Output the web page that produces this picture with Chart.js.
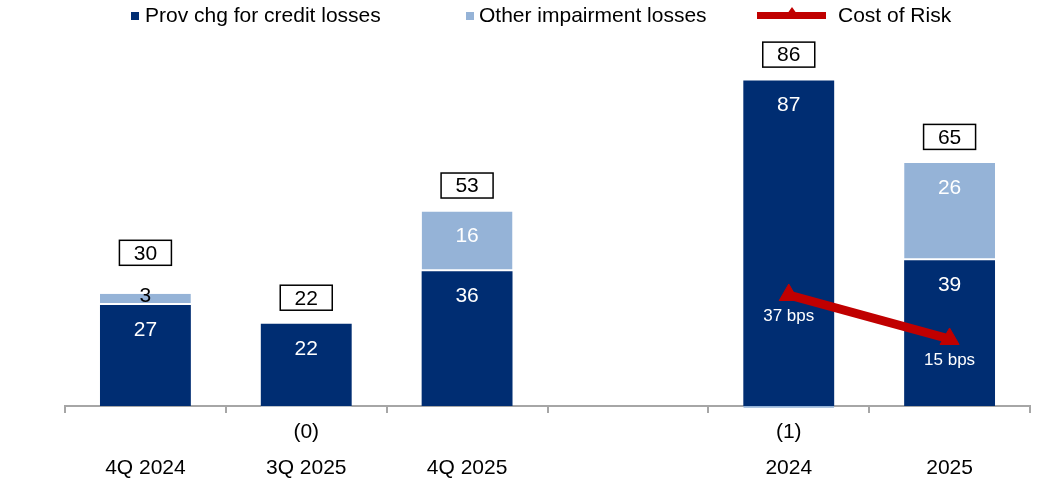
<!DOCTYPE html>
<html>
<head>
<meta charset="utf-8">
<script src="https://cdn.jsdelivr.net/npm/chart.js@4.4.1/dist/chart.umd.min.js"></script>
<style>
  html, body { margin: 0; padding: 0; background: #fff; }
  #wrap { width: 1038px; height: 481px; }
</style>
</head>
<body>
<div id="wrap"><canvas id="lossChart" width="1038" height="481"></canvas></div>
<script>
// quarterly / annual impairment figures
const categories = ['4Q 2024', '3Q 2025', '4Q 2025', '', '2024', '2025'];
const provChg = [27, 22, 36, null, 87, 39];
const otherImp = [3, -0.2, 16, null, -1, 26];
const totals = [30, 22, 53, null, 86, 65];
const costOfRisk = [null, null, null, null, 37, 15];

const NAVY = '#002D72';
const LIGHT = '#95B3D7';
const RED = '#C00000';
const FONT = '"Liberation Sans", Arial, sans-serif';

function fmt(v) {
    const r = Math.round(Math.abs(v));
    return v < 0 ? '(' + r + ')' : String(r);
}

// value labels, total boxes, bps labels and the legend
const labelsPlugin = {
    id: 'labels',
    afterDatasetsDraw(chart) {
        const ctx = chart.ctx;
        const base = chart.scales.y.getPixelForValue(0);
        ctx.save();
        ctx.textAlign = 'center';
        ctx.textBaseline = 'middle';
        ctx.font = '21px ' + FONT;

        const tops = [];
        [0, 1].forEach(di => {
            const meta = chart.getDatasetMeta(di);
            const vals = chart.data.datasets[di].data;
            meta.data.forEach((bar, i) => {
                const v = vals[i];
                if (v === null) return;
                if (v < 0) {
                    ctx.fillStyle = '#000';
                    ctx.fillText(fmt(v), bar.x, base + 26);
                    return;
                }
                const top = Math.min(bar.y, bar.base);
                const h = Math.abs(bar.base - bar.y);
                if (h < 30) {
                    ctx.fillStyle = '#000';
                    ctx.fillText(fmt(v), bar.x, top + 2);
                    tops[i] = { y: top, small: true };
                } else {
                    ctx.fillStyle = '#fff';
                    ctx.fillText(fmt(v), bar.x, top + 25);
                    if (!tops[i] || top < tops[i].y) tops[i] = { y: top, small: false };
                }
            });
        });

        // total boxes above each stack
        const navyMeta = chart.getDatasetMeta(0);
        totals.forEach((t, i) => {
            if (t === null) return;
            const x = navyMeta.data[i].x;
            const info = tops[i];
            const cy = info.small ? info.y - 41 : info.y - 26;
            const w = 52, h = 25;
            ctx.fillStyle = '#fff';
            ctx.fillRect(x - w / 2, cy - h / 2, w, h);
            ctx.lineWidth = 1.5;
            ctx.strokeStyle = '#000';
            ctx.strokeRect(x - w / 2, cy - h / 2, w, h);
            ctx.fillStyle = '#000';
            ctx.fillText(String(t), x, cy + 1);
        });

        // cost of risk labels
        const lineMeta = chart.getDatasetMeta(2);
        ctx.font = '17px ' + FONT;
        ctx.fillStyle = '#fff';
        lineMeta.data.forEach((pt, i) => {
            if (costOfRisk[i] === null) return;
            ctx.fillText(costOfRisk[i] + ' bps', pt.x, pt.y + 21);
        });

        // legend
        ctx.font = '21px ' + FONT;
        ctx.textAlign = 'left';
        ctx.fillStyle = NAVY;
        ctx.fillRect(131, 12, 8, 8);
        ctx.fillStyle = '#000';
        ctx.fillText('Prov chg for credit losses', 145, 16);
        ctx.fillStyle = LIGHT;
        ctx.fillRect(466, 12, 8, 8);
        ctx.fillStyle = '#000';
        ctx.fillText('Other impairment losses', 479, 16);
        ctx.strokeStyle = RED;
        ctx.lineWidth = 7;
        ctx.beginPath();
        ctx.moveTo(757, 15.5);
        ctx.lineTo(826, 15.5);
        ctx.stroke();
        ctx.fillStyle = RED;
        ctx.beginPath();
        ctx.moveTo(792, 7);
        ctx.lineTo(797, 14);
        ctx.lineTo(787, 14);
        ctx.closePath();
        ctx.fill();
        ctx.fillStyle = '#000';
        ctx.fillText('Cost of Risk', 838, 16);
        ctx.restore();
    }
};

new Chart(document.getElementById('lossChart'), {
    type: 'bar',
    data: {
        labels: categories,
        datasets: [
            {
                label: 'Prov chg for credit losses',
                data: provChg,
                backgroundColor: NAVY,
                stack: 's',
                order: 2,
                barPercentage: 0.565,
                categoryPercentage: 1,
                clip: false
            },
            {
                label: 'Other impairment losses',
                data: otherImp,
                backgroundColor: LIGHT,
                borderColor: '#fff',
                borderWidth: { bottom: 2 },
                borderSkipped: false,
                stack: 's',
                order: 2,
                barPercentage: 0.565,
                categoryPercentage: 1,
                clip: false
            },
            {
                type: 'line',
                label: 'Cost of Risk',
                data: costOfRisk,
                yAxisID: 'y2',
                borderColor: RED,
                backgroundColor: RED,
                borderWidth: 9,
                pointStyle: 'triangle',
                pointRadius: 11,
                pointBorderWidth: 1,
                pointBackgroundColor: RED,
                pointBorderColor: RED,
                order: 0,
                clip: false
            }
        ]
    },
    options: {
        responsive: false,
        animation: false,
        layout: { autoPadding: false, padding: { top: 32, left: 65, right: 8, bottom: 0 } },
        plugins: {
            legend: { display: false },
            tooltip: { enabled: false }
        },
        scales: {
            x: {
                stacked: true,
                offset: true,
                afterFit(scale) { scale.height = 75; },
                grid: {
                    display: true,
                    offset: true,
                    drawOnChartArea: false,
                    drawTicks: true,
                    tickLength: 7,
                    color: '#A6A6A6',
                    lineWidth: 2
                },
                border: { display: true, color: '#A6A6A6', width: 2 },
                ticks: {
                    color: '#000',
                    padding: 43,
                    font: { family: FONT, size: 21 }
                }
            },
            y: {
                display: false,
                stacked: true,
                min: 0,
                max: 100
            },
            y2: {
                display: false,
                position: 'right',
                min: -18.5,
                max: 168.5
            }
        }
    },
    plugins: [labelsPlugin]
});
</script>
</body>
</html>
